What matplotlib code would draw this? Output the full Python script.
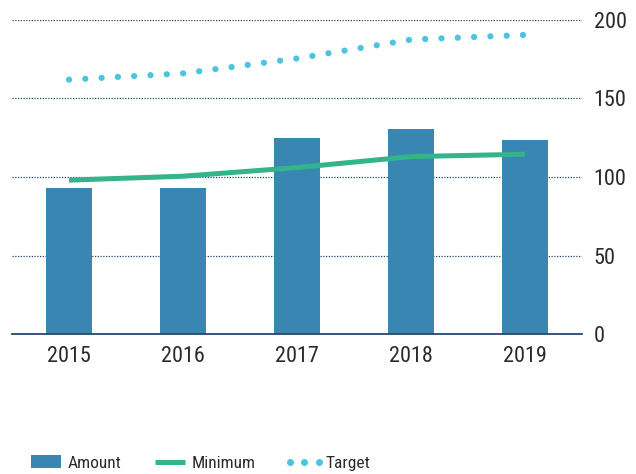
import matplotlib
matplotlib.use("Agg")
import matplotlib.pyplot as plt
from matplotlib.patches import Patch
from matplotlib.lines import Line2D
from matplotlib.legend_handler import HandlerLine2D

years = ["2015", "2016", "2017", "2018", "2019"]
amount = [93, 93, 125, 130.5, 123.5]
minimum = [98, 100.5, 106, 113, 114.5]
target = [162, 166, 175.5, 187.5, 190.5]
yticks = [0, 50, 100, 150, 200]

BAR = "#3986b3"
GREEN = "#33b48a"
CYAN = "#4cc3df"
NAVY = "#24476e"
TEXT = "#2b2b2b"

plt.rcParams['font.family'] = ['Roboto Condensed', 'DejaVu Sans']

fig = plt.figure(figsize=(6.36, 4.74), dpi=100)
ax = fig.add_axes([12/636, 140/474, 570/636, 314/474])

x = list(range(len(years)))
ax.bar(x, amount, width=0.41, color=BAR, zorder=2)
ax.plot(x, minimum, color=GREEN, lw=3.6, solid_capstyle='butt', zorder=3)
ax.plot(x, target, color=CYAN, lw=4.5, linestyle=(0, (0.01, 2.6)),
        dash_capstyle='round', zorder=3)

ax.set_xlim(-0.5, 4.5)
ax.set_ylim(0, 200)
ax.set_xticks(x)
ax.set_xticklabels(years)
ax.set_yticks(yticks)
ax.yaxis.tick_right()
ax.tick_params(axis='y', length=0, pad=8.5, labelsize=16, labelcolor=TEXT)
ax.tick_params(axis='x', length=0, pad=9, labelsize=16, labelcolor=TEXT)
for lab in ax.get_yticklabels():
    lab.set_horizontalalignment('left')

for s in ['top', 'left', 'right']:
    ax.spines[s].set_visible(False)
ax.spines['bottom'].set_color(NAVY)
ax.spines['bottom'].set_linewidth(1.3)
ax.spines['bottom'].set_zorder(4)

for v in yticks[1:]:
    ax.axhline(v, color=NAVY, lw=0.9, linestyle=(0, (1, 1.2)), zorder=1)

dots = Line2D([], [], color=CYAN, ls='none', marker='o', ms=4.0)
handles = [
    Patch(facecolor=BAR, edgecolor='none'),
    Line2D([], [], color=GREEN, lw=3.6, solid_capstyle='butt'),
    dots,
]
fig.legend(handles, ["Amount", "Minimum", "Target"], loc='center left',
           bbox_to_anchor=(31/636, 11/474), ncol=3, frameon=False,
           fontsize=12.5, handlelength=1.7, handleheight=0.8, handletextpad=0.4,
           columnspacing=1.95, borderpad=0, borderaxespad=0,
           handler_map={dots: HandlerLine2D(numpoints=3, marker_pad=0.0)},
           labelcolor=TEXT)

fig.savefig("out.png", dpi=100)
